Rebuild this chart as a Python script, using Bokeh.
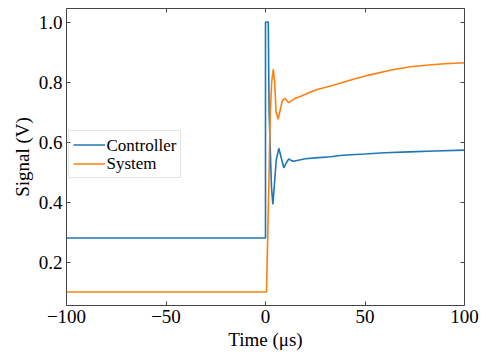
from bokeh.plotting import figure
from bokeh.models import Range1d, LinearAxis, FixedTicker, Legend, LegendItem, Label
from bokeh.embed import file_html
from bokeh.resources import INLINE

# ---- data ----
ctrl_t = [-100, 0, 0, 1.4, 1.8, 3.0, 3.7, 4.5, 5.4, 6.7, 8.0, 9.2, 10.4, 11.7, 13.0, 14.2,
          17, 20, 25, 32.7, 38.7, 50, 60, 72, 85, 100]
ctrl_v = [0.28, 0.28, 1.0, 1.0, 0.70, 0.45, 0.392, 0.46, 0.54, 0.579, 0.545, 0.514, 0.530,
          0.544, 0.538, 0.536, 0.540, 0.544, 0.547, 0.551, 0.556, 0.560, 0.564, 0.567, 0.570, 0.573]

sys_t = [-100, 0.5, 1.4, 2.4, 3.1, 3.9, 4.6, 5.3, 6.4, 7.5, 8.5, 9.7, 10.7, 11.7, 13.0, 15.0,
         17.5, 20, 22, 26, 32.7, 38.7, 45, 52, 63.8, 72, 80.4, 90, 100]
sys_v = [0.1, 0.1, 0.37, 0.70, 0.80, 0.842, 0.80, 0.70, 0.676, 0.71, 0.738, 0.746, 0.738, 0.731,
         0.737, 0.746, 0.752, 0.759, 0.765, 0.775, 0.787, 0.798, 0.811, 0.823, 0.841, 0.850,
         0.856, 0.861, 0.864]

x_ticks = [-100, -50, 0, 50, 100]
x_tick_labels = ["\u2212100", "\u221250", "0", "50", "100"]
y_ticks = [0.2, 0.4, 0.6, 0.8, 1.0]
y_tick_labels = ["0.2", "0.4", "0.6", "0.8", "1.0"]

series_names = ["Controller", "System"]
series_colors = ["#1f77b4", "#ff7f0e"]

FONT = "Liberation Serif"
AXIS_COLOR = "#444444"

p = figure(width=484, height=354, output_backend="svg", toolbar_location=None,
           x_range=Range1d(-100, 100), y_range=Range1d(0.055, 1.045),
           min_border_left=66, min_border_right=20, min_border_top=8, min_border_bottom=49,
           x_axis_location=None, y_axis_location=None)
p.grid.visible = False
p.background_fill_color = "white"
p.border_fill_color = "white"
p.outline_line_color = AXIS_COLOR
p.outline_line_width = 1


def style_axis(ax, ticks, labels, show_labels):
    ax.ticker = FixedTicker(ticks=ticks)
    ax.major_label_overrides = {t: l for t, l in zip(ticks, labels)}
    ax.major_tick_in = 4
    ax.major_tick_out = 0
    ax.minor_tick_in = 0
    ax.minor_tick_out = 0
    ax.major_tick_line_color = AXIS_COLOR
    ax.axis_line_color = None
    ax.major_label_text_font = FONT
    ax.axis_label_text_font = FONT
    ax.axis_label_text_font_style = "normal"
    ax.axis_label_text_color = "black"
    ax.major_label_text_color = "black"
    if show_labels:
        ax.major_label_text_font_size = "19px"
        ax.axis_label_text_font_size = "19px"
        ax.major_label_standoff = 4
        ax.axis_label_standoff = 3
    else:
        ax.major_label_text_font_size = "0px"
        ax.major_label_standoff = 0
        ax.major_label_text_color = None


xb = LinearAxis(axis_label="Time (\u03bcs)")
style_axis(xb, x_ticks, x_tick_labels, True)
p.add_layout(xb, "below")

yl = LinearAxis(axis_label="Signal (V)")
style_axis(yl, y_ticks, y_tick_labels, True)
p.add_layout(yl, "left")

xt = LinearAxis()
style_axis(xt, x_ticks, x_tick_labels, False)
p.add_layout(xt, "above")

yr = LinearAxis()
style_axis(yr, y_ticks, y_tick_labels, False)
p.add_layout(yr, "right")

r1 = p.line(ctrl_t, ctrl_v, line_color=series_colors[0], line_width=1.6)
r2 = p.line(sys_t, sys_v, line_color=series_colors[1], line_width=1.6)

# legend box + line samples (texts drawn as serif labels)
legend = Legend(items=[LegendItem(label="", renderers=[r1]),
                       LegendItem(label="", renderers=[r2])],
                location=(2, 127))
legend.label_text_font_size = "17px"
legend.glyph_width = 32
legend.glyph_height = 19
legend.label_height = 19
legend.label_width = 70
legend.label_standoff = 1
legend.spacing = 0
legend.padding = 4
legend.margin = 0
legend.border_line_color = "#cccccc"
legend.border_line_width = 1
legend.background_fill_color = None
p.add_layout(legend, "center")

legend_text_x = -79.9
legend_text_y = [0.590, 0.527]
for name, ty in zip(series_names, legend_text_y):
    p.add_layout(Label(x=legend_text_x, y=ty, text=name, text_font=FONT,
                       text_font_size="17px", text_color="black",
                       text_baseline="middle", text_align="left", level="overlay"))

open("out.html", "w").write(file_html(p, INLINE))
